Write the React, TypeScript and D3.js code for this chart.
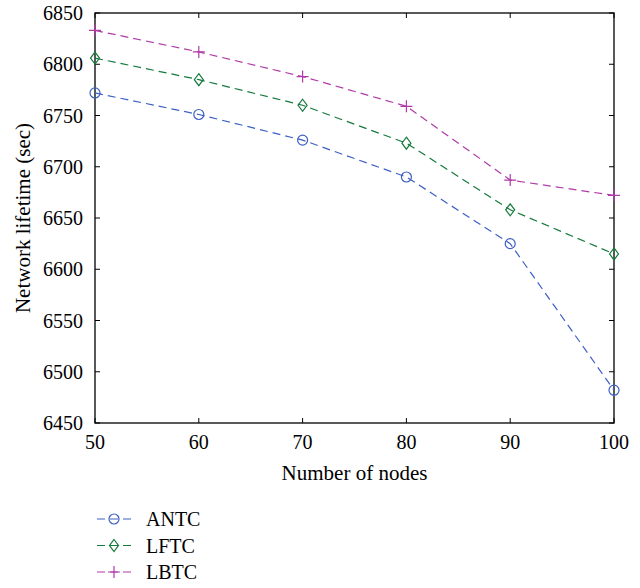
import { useEffect, useRef } from 'react'
import * as d3 from 'd3'

const NODES = [50, 60, 70, 80, 90, 100]
const ANTC = [6772, 6751, 6726, 6690, 6625, 6482]
const LFTC = [6806, 6785, 6760, 6723, 6658, 6615]
const LBTC = [6833, 6812, 6788, 6759, 6687, 6672]
const Y_TICKS = [6450, 6500, 6550, 6600, 6650, 6700, 6750, 6800, 6850]

const SERIES = [
  { name: 'ANTC', values: ANTC, color: '#3d5fc4', marker: 'circle' },
  { name: 'LFTC', values: LFTC, color: '#147a3c', marker: 'diamond' },
  { name: 'LBTC', values: LBTC, color: '#b03aa8', marker: 'plus' },
]

const FONT = '"Liberation Serif", "Times New Roman", serif'

function drawMarker(g: any, kind: string, cx: number, cy: number, color: string) {
  if (kind === 'circle') {
    g.append('circle').attr('cx', cx).attr('cy', cy).attr('r', 5)
      .attr('fill', 'none').attr('stroke', color).attr('stroke-width', 1.2)
  } else if (kind === 'diamond') {
    const s = 6
    g.append('path')
      .attr('d', `M${cx},${cy - s}L${cx + s * 0.75},${cy}L${cx},${cy + s}L${cx - s * 0.75},${cy}Z`)
      .attr('fill', 'none').attr('stroke', color).attr('stroke-width', 1.2)
  } else {
    const s = 6
    g.append('path')
      .attr('d', `M${cx - s},${cy}H${cx + s}M${cx},${cy - s}V${cy + s}`)
      .attr('stroke', color).attr('stroke-width', 1.2)
  }
}

export default function App() {
  const svgRef = useRef<SVGSVGElement>(null)

  useEffect(() => {
    const W = 640, H = 588
    const margin = { top: 13, right: 26, bottom: 165, left: 95 }
    const w = W - margin.left - margin.right
    const h = H - margin.top - margin.bottom

    const svg = d3.select(svgRef.current)
    svg.selectAll('*').remove()
    svg.attr('width', W).attr('height', H)

    const g = svg.append('g').attr('transform', `translate(${margin.left},${margin.top})`)

    const x = d3.scaleLinear().domain([50, 100]).range([0, w])
    const y = d3.scaleLinear().domain([6450, 6850]).range([h, 0])

    // Frame with inward ticks on all sides
    g.append('rect').attr('width', w).attr('height', h)
      .attr('fill', 'none').attr('stroke', '#000').attr('stroke-width', 1.3)

    const tk = 5
    NODES.forEach(v => {
      g.append('line').attr('x1', x(v)).attr('x2', x(v)).attr('y1', h).attr('y2', h - tk)
        .attr('stroke', '#000').attr('stroke-width', 1)
      g.append('line').attr('x1', x(v)).attr('x2', x(v)).attr('y1', 0).attr('y2', tk)
        .attr('stroke', '#000').attr('stroke-width', 1)
      g.append('text').attr('x', x(v)).attr('y', h + 26)
        .attr('text-anchor', 'middle').attr('font-family', FONT).attr('font-size', 20)
        .text(v)
    })
    Y_TICKS.forEach(v => {
      g.append('line').attr('x1', 0).attr('x2', tk).attr('y1', y(v)).attr('y2', y(v))
        .attr('stroke', '#000').attr('stroke-width', 1)
      g.append('line').attr('x1', w).attr('x2', w - tk).attr('y1', y(v)).attr('y2', y(v))
        .attr('stroke', '#000').attr('stroke-width', 1)
      g.append('text').attr('x', -12).attr('y', y(v))
        .attr('text-anchor', 'end').attr('dominant-baseline', 'central')
        .attr('font-family', FONT).attr('font-size', 20)
        .text(v)
    })

    // Axis titles
    g.append('text').attr('x', w / 2).attr('y', h + 57)
      .attr('text-anchor', 'middle').attr('font-family', FONT).attr('font-size', 21)
      .text('Number of nodes')
    g.append('text')
      .attr('transform', `translate(${-65},${h / 2}) rotate(-90)`)
      .attr('text-anchor', 'middle').attr('font-family', FONT).attr('font-size', 21)
      .text('Network lifetime (sec)')

    const line = d3.line<number>().x((_, i) => x(NODES[i])).y(d => y(d))

    SERIES.forEach(s => {
      g.append('path').datum(s.values).attr('d', line)
        .attr('fill', 'none').attr('stroke', s.color).attr('stroke-width', 1.2)
        .attr('stroke-dasharray', '8,5')
      s.values.forEach((v, i) => drawMarker(g, s.marker, x(NODES[i]), y(v), s.color))
    })

    // Legend
    const lg = svg.append('g').attr('transform', 'translate(97,519)')
    SERIES.forEach((s, i) => {
      const yy = i * 26.5
      lg.append('line').attr('x1', 0).attr('x2', 35).attr('y1', yy).attr('y2', yy)
        .attr('stroke', s.color).attr('stroke-width', 1.2).attr('stroke-dasharray', '8,5')
      drawMarker(lg, s.marker, 17, yy, s.color)
      lg.append('text').attr('x', 49).attr('y', yy).attr('dominant-baseline', 'central')
        .attr('font-family', FONT).attr('font-size', 20).text(s.name)
    })
  }, [])

  return (
    <div style={{ position: 'absolute', left: 0, top: 0 }}>
      <svg ref={svgRef} style={{ display: 'block' }} />
    </div>
  )
}
